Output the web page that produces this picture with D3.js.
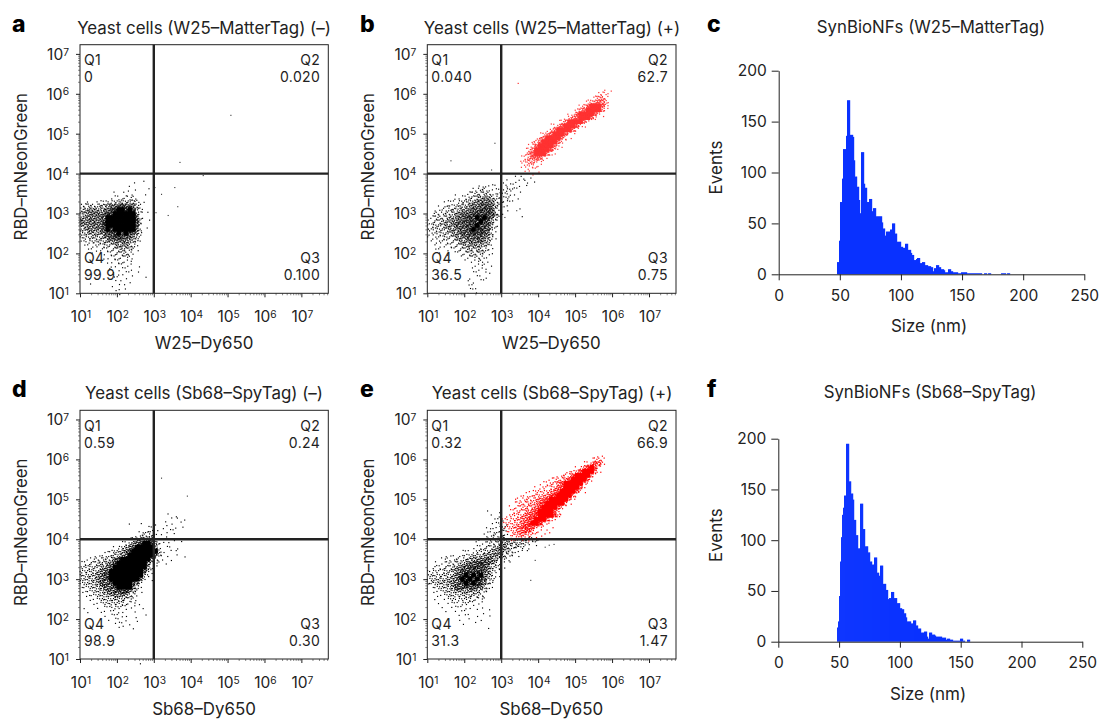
<!DOCTYPE html>
<html><head><meta charset="utf-8">
<script src="https://cdn.jsdelivr.net/npm/d3@7"></script>
<style>html,body{margin:0;background:#fff}svg{display:block}text{font-family:Inter,"Noto Sans",sans-serif;fill:#222}</style>
</head><body><svg id="c" width="1099" height="720"></svg>
<script>
// Event density: one string per 0.1 decade of y (top row first),
// one digit (0-9) per 0.1 decade of x, beginning at the stated log10 x.
const blackStartX = 1.0, redStartX = 3.0;
const blackRowsTopY = {a:3.9, b:3.9, d:4.6, e:4.7};
const redRowsTopY = {b:6.1, e:6.1};
const cloudA = ["0","00000000000000100100","00000000000001000000","00000000000001010010","00000000010100100100","00000000111221110000","00101112233444420100","23333445667877631000","34555556889989842000","45666668899999952010","55666679999999972000","66666689999999982010","55666689999999972000","45666679899999962010","34555567889898752000","23344456788876531000","12233445566665421000","01112233345554310000","00111122233443210000","00010011223332100000","00000011122221100000","00000001112211000000","00000000111111001000","00000000101111000000","00000000011111010000","00000000011010100100","00000000010101000000","00100000101010000000","00000000011010000000","00000000001000000000"];
const cloudB = ["000000000000000000000001011010","000000000000000000001101101101","000000000000001211100211101000","000000000000122221112222100000","000000010012233332121211010000","000000011123344554321210100000","000011112334556665322111000000","000112223445667776432100000000","001123334556778887421100010000","012223445667888887521000000000","123334556778898986310000010000","123345567788889885200000000000","233445567778898874200000000000","233344556778988873100000000000","123334456778888763100000000000","112233345667777652100000000000","011222234556666541000000000000","001112223445555431000000000000","001101112334444321000000000000","000101011223333211000000000000","000000000112222110000000000000","000000000011112010000000000000","000000000000111101000000000000","000000000000111100000000000000","000000000000110110000000000000","000000000001011100000000000000","000000000001101100000000000000","000000000001100000000000000000","000000000001110000000000000000","000000000000010000000000000000"];
const cloudD = ["000000000000000000000001001000","000000000000000000000000101010","000000000000010010001001100100","000000000000000000110011010100","000000000000000012220101110000","000000000000000123331011010000","000000000000012356661011010000","000000000001235789985210100100","000000000123468999996101101","000000112335689999999410101","00001112234579999999731100101","0111223346899999999521101","122334456899999999631101","233344567999999999521","33344567999999999731","33445678999999999421","33445678999999996201","23345677899999852","12234566789999731","11223456678886421","0112234556665321","0011123344443211","00011122333322101","010010112222111001","0010011011111010","0000001011111000010","0000000101101001","0000000001110101","000000000011001","0","0","0","0","0","0","0","0","00000000000000001"];
const cloudE = ["00000000000000001001","00000000000000000101","000000000000000000111","0000000000000000011211","0000000000000000121121","0000000000000000112231","0000000000000001122331","000000000000010112244322334322","000000000000011122345544333211","000000000000112233455543321101","000000000111123344565432110100","0000011111223445566643211","00011112233455667653211","00111223345677887542101","012223345678887764321","22223345688888875321","23333445789898965311","2334445679898987421","234445567898988632","012334567787776421","01112345555554421","0011123333444321","0010112222332211","000101111222111","000010111111101","00000101011001001","00000000101101011","0000000010010010","0000000001000100","00000000000000001"];
const redB = ["000000000000000000000000000011","00000000000000000000000000232","00000000000000000000000003552","00000000000000000000000246763","00000000000000000000014799982","00000000000000000000257999951","000000000000000000127999983","00000000000000000136899972","000000000000000136999962","00000000000001258999831","000000000000136999962","00000000001248999831","0000000001369999721","000000002379999821","00000001379999721","0000001369999831","000000258999721","0000012588741","000002355421","00000123321","0000001211","00000000101"];
const redE = ["0000000000000000000000000011","0000000000000000000000001332","0000000000000000000000125762","000000000000000000001258972","000000000000000001124799951","00000000000000012247999951","0000000000001123358999951","000000000011233579999941","00000000011223468999961","00000011122334689999621","000001122334578999941","00011223345689999951","0001233445689999941","001223344689999721","0012334568999962","01233456789999841","122345678999731","1223457899842","023457887421001","01235676421011","0013454321110","0012221101"];
// Lone events as [log10 x, log10 y]
const strayA = [[5.09,5.46],[3.71,4.28],[4.34,3.95],[3.03,3.65],[3.57,3.65],[3.21,3.48],[3.65,3.17],[3.39,2.95],[3.06,3.02]];
const strayB = [[2.83,4.76],[1.64,4.32],[2.74,4.09],[3.42,3.07],[3.1,2.9]];
const strayBRed = [[3.46,6.26],[5.77,5.43]];
const strayD = [[3.21,5.53],[3.91,5.08]];
const strayE = [[3.8,2.97],[3.92,3.47],[4.19,3.8],[4.3,3.85],[4.43,3.87]];
// Gate percentages
const quadA = ["0","0.020","0.100","99.9"];
const quadB = ["0.040","62.7","0.75","36.5"];
const quadD = ["0.59","0.24","0.30","98.9"];
const quadE = ["0.32","66.9","1.47","31.3"];
const quadNames = ["Q1","Q2","Q3","Q4"];
// Histograms: events per bin
const binStartC = 47.69, binWidthC = 0.818, binStartF = 48.3, binWidthF = 0.822;
const eventsC = [12,12,33,71,71,94,123,123,123,136,171,171,171,137,137,137,135,112,96,96,86,86,73,60,120,120,120,89,85,85,71,71,74,74,74,62,65,65,65,57,57,57,57,57,57,51,45,45,38,42,42,42,42,44,44,50,50,50,40,40,32,32,32,32,27,27,26,26,30,30,30,24,24,24,21,19,19,14,14,15,16,16,16,11,11,12,12,12,9,9,9,8,8,8,7,7,3,6,6,9,9,9,7,7,5,5,5,4,2,2,2,5,5,5,3,3,2,2,2,2,2,1,1,1,2,2,2,2,2,2,1,1,1,1,1,1,1,1,1,1,1,1,1,1,1,0,0,1,1,1,0,1,1,1,0,0,0,0,0,0,0,0,0,0,1,1,1,1,1,0,1,1,1];
const eventsF = [14,20,45,79,103,125,132,144,144,195,195,195,158,158,146,146,140,120,120,105,105,92,92,136,136,136,111,111,94,94,94,88,88,79,79,76,76,83,83,83,68,68,65,75,75,75,57,57,57,51,51,42,43,43,49,49,49,43,43,43,38,38,38,33,33,32,32,28,28,24,20,20,20,20,18,18,21,21,21,16,16,13,13,13,9,9,9,10,10,10,5,3,9,9,9,7,7,7,6,5,5,5,5,5,5,4,4,4,4,2,3,3,3,2,2,2,1,1,1,1,1,1,1,3,3,3,1,1,0,0,2,2,2];
const logTicks = [1,2,3,4,5,6,7];
const histXTicks = [0,50,100,150,200,250];
const histYTicks = [0,50,100,150,200];

// fill pattern for the dots inside a density cell
const stipple = [[.31,.42],[.78,.83],[.12,.88],[.86,.17],[.55,.08],[.08,.35],[.62,.58],[.38,.70],[.90,.48],[.22,.14],[.47,.93],[.70,.30],[.03,.62],[.40,.20],[.95,.72],[.60,.85]];
const dotsForDigit = [0,1,2,3,4,6,8,10,12,16];
const svg = d3.select("#c");
const INK = "#222";

function cellDots(rows, x0, yTop){
  const out=[];
  rows.forEach((r,j)=>{ [...r].forEach((ch,i)=>{
    const n=dotsForDigit[+ch]||0;
    for(let k=0;k<n;k++){
      const s=stipple[(k+i*5+j*11)%16];
      out.push([x0+(i+s[0])*0.1, yTop-j*0.1+(0.5-s[1])*0.1]);
    }
  });});
  return out;
}
function fullCells(rows, x0, yTop){
  const out=[];
  rows.forEach((r,j)=>{ [...r].forEach((ch,i)=>{ if(ch==="9") out.push([x0+i*0.1, yTop-j*0.1]); });});
  return out;
}
function sup(sel){
  sel.each(function(d){
    const t=d3.select(this).text(null);
    t.append("tspan").text("10");
    t.append("tspan").attr("dy","-0.42em").attr("font-size","0.66em").text(d);
  });
}
function flow(o){
  const g=svg.append("g");
  const xLog=d3.scaleLog().domain([10,Math.pow(10,7.73)]).range([o.x0,o.x1]);
  const yLog=d3.scaleLog().domain([10,Math.pow(10,7.23)]).range([o.yB,o.yT]);
  const px=v=>xLog(Math.pow(10,v)), py=v=>yLog(Math.pow(10,v));
  const drawDots=(pts,color,s)=>g.append("g").selectAll("rect").data(pts).join("rect")
     .attr("x",d=>px(d[0])-s/2).attr("y",d=>py(d[1])-s/2)
     .attr("width",s).attr("height",s).attr("fill",color);
  const drawFull=(cells,color)=>g.append("g").selectAll("rect").data(cells).join("rect")
     .attr("x",d=>px(d[0])-.3).attr("y",d=>py(d[1]+.05)-.3)
     .attr("width",d=>px(d[0]+.1)-px(d[0])+.6).attr("height",d=>py(d[1]-.05)-py(d[1]+.05)+.6).attr("fill",color);
  drawFull(fullCells(o.black,blackStartX,o.blackTop),"#000");
  drawDots(cellDots(o.black,blackStartX,o.blackTop),"#000",1.15);
  if(o.red){ drawFull(fullCells(o.red,redStartX,o.redTop),o.redColor); drawDots(cellDots(o.red,redStartX,o.redTop),o.redColor,1.2); }
  drawDots(o.stray,"#333",1.1);
  if(o.strayRed) drawDots(o.strayRed,o.redColor,1.2);
  const minor=[]; for(let e=1;e<8;e++) for(let m=2;m<10;m++){const v=m*Math.pow(10,e); if(v<=Math.pow(10,7.7)) minor.push(v);}
  const minorY=minor.filter(v=>v<=Math.pow(10,7.2));
  const axM=(ax,s,vals)=>ax.tickValues(vals).tickSize(s).tickFormat("");
  g.append("g").attr("transform",`translate(0,${o.yB})`).call(axM(d3.axisBottom(xLog),2,minor)).call(a=>a.select(".domain").remove()).selectAll("line").attr("stroke","#555").attr("stroke-width",.7);
  g.append("g").attr("transform",`translate(${o.x0},0)`).call(axM(d3.axisLeft(yLog),2,minorY)).call(a=>a.select(".domain").remove()).selectAll("line").attr("stroke","#555").attr("stroke-width",.7);
  const bx=d3.axisBottom(xLog).tickValues(logTicks.map(e=>Math.pow(10,e))).tickSize(4).tickFormat("");
  g.append("g").attr("transform",`translate(0,${o.yB})`).call(bx).call(a=>a.select(".domain").remove()).selectAll("line").attr("stroke",INK);
  const by=d3.axisLeft(yLog).tickValues(logTicks.map(e=>Math.pow(10,e))).tickSize(4).tickFormat("");
  g.append("g").attr("transform",`translate(${o.x0},0)`).call(by).call(a=>a.select(".domain").remove()).selectAll("line").attr("stroke",INK);
  g.append("rect").attr("x",o.x0).attr("y",o.yT).attr("width",o.x1-o.x0).attr("height",o.yB-o.yT).attr("fill","none").attr("stroke",INK).attr("stroke-width",1);
  g.append("line").attr("x1",xLog(1e3)).attr("x2",xLog(1e3)).attr("y1",o.yT).attr("y2",o.yB).attr("stroke",INK).attr("stroke-width",2.4);
  g.append("line").attr("x1",o.x0).attr("x2",o.x1).attr("y1",yLog(1e4)).attr("y2",yLog(1e4)).attr("stroke",INK).attr("stroke-width",2.4);
  g.append("g").selectAll("text").data(logTicks).join("text").attr("x",e=>xLog(Math.pow(10,e))+1).attr("y",o.yB+29).attr("text-anchor","middle").attr("font-size",15.5).call(sup);
  g.append("g").selectAll("text").data(logTicks).join("text").attr("x",o.x0-11).attr("y",e=>yLog(Math.pow(10,e))+6).attr("text-anchor","end").attr("font-size",15.5).call(sup);
  const qp=[[o.x0+4,o.yT+20.5,"start"],[o.x1-8,o.yT+20.5,"end"],[o.x1-8,o.yB-30.5,"end"],[o.x0+4,o.yB-30.5,"start"]];
  o.quad.forEach((v,i)=>{
    g.append("text").attr("x",qp[i][0]).attr("y",qp[i][1]).attr("text-anchor",qp[i][2]).attr("font-size",14).style("letter-spacing","0.4px").text(quadNames[i]);
    g.append("text").attr("x",qp[i][0]).attr("y",qp[i][1]+17).attr("text-anchor",qp[i][2]).attr("font-size",14).style("letter-spacing","0.4px").text(v);
  });
  g.append("text").attr("x",(o.titleX)).attr("y",o.yT-11).attr("text-anchor","middle").attr("font-size",16.9).text(o.title);
  g.append("text").attr("x",o.x0+124).attr("y",o.yB+55.5).attr("text-anchor","middle").attr("font-size",16.9).text(o.xLabel);
  g.append("text").attr("transform",`translate(${o.x0-53},${o.yT+122}) rotate(-90)`).attr("text-anchor","middle").attr("font-size",16.8).text("RBD–mNeonGreen");
  g.append("text").attr("x",o.lx).attr("y",o.yT-13).attr("font-size",23).attr("font-weight",800).style("fill","#000").text(o.letter);
}
function hist(o){
  const g=svg.append("g");
  const x=d3.scaleLinear().domain([0,250]).range([o.x0,o.x1]);
  const y=d3.scaleLinear().domain([0,200]).range([o.yB,o.yT]);
  g.append("g").selectAll("rect").data(o.events.map((v,i)=>({v,i})).filter(d=>d.v>0)).join("rect")
   .attr("x",d=>x(o.start+d.i*o.w)).attr("width",d=>x(o.start+(d.i+1)*o.w)-x(o.start+d.i*o.w)+.2)
   .attr("y",d=>y(d.v)).attr("height",d=>o.yB-y(d.v)).attr("fill","#0a32ff");
  const ax=g.append("g").attr("transform",`translate(0,${o.yB})`).call(d3.axisBottom(x).tickValues(histXTicks).tickSize(6).tickPadding(5).tickSizeOuter(0));
  const ay=g.append("g").attr("transform",`translate(${o.x0},0)`).call(d3.axisLeft(y).tickValues(histYTicks).tickSize(7).tickPadding(5).tickSizeOuter(0));
  [ax,ay].forEach(a=>{a.selectAll("path,line").attr("stroke",INK); a.selectAll("text").attr("font-size",15.5).style("font-family","Inter").style("fill",INK);});
  ax.selectAll("text").attr("dy","1em");
  g.append("text").attr("x",o.titleX).attr("y",o.titleY).attr("text-anchor","middle").attr("font-size",16.8).text(o.title);
  g.append("text").attr("x",o.titleX-2).attr("y",o.yB+58).attr("text-anchor","middle").attr("font-size",17).text("Size (nm)");
  g.append("text").attr("transform",`translate(722,${(o.yB+o.yT)/2-5}) rotate(-90)`).attr("text-anchor","middle").attr("font-size",17).text("Events");
  g.append("text").attr("x",707).attr("y",o.titleY-1).attr("font-size",23).attr("font-weight",800).style("fill","#000").text(o.letter);
}
flow({x0:80,x1:328.3,yT:44.7,yB:293.3,black:cloudA,blackTop:blackRowsTopY.a,stray:strayA,quad:quadA,title:"Yeast cells (W25–MatterTag) (–)",titleX:204,xLabel:"W25–Dy650",letter:"a",lx:12});
flow({x0:427.3,x1:676,yT:44.7,yB:293.3,black:cloudB,blackTop:blackRowsTopY.b,red:redB,redTop:redRowsTopY.b,redColor:"#ff3333",stray:strayB,strayRed:strayBRed,quad:quadB,title:"Yeast cells (W25–MatterTag) (+)",titleX:552,xLabel:"W25–Dy650",letter:"b",lx:360});
flow({x0:80,x1:328.3,yT:410.3,yB:659,black:cloudD,blackTop:blackRowsTopY.d,stray:strayD,quad:quadD,title:"Yeast cells (Sb68–SpyTag) (–)",titleX:204,xLabel:"Sb68–Dy650",letter:"d",lx:12});
flow({x0:427.3,x1:676,yT:410.3,yB:659,black:cloudE,blackTop:blackRowsTopY.e,red:redE,redTop:redRowsTopY.e,redColor:"#ff0000",stray:strayE,quad:quadE,title:"Yeast cells (Sb68–SpyTag) (+)",titleX:552,xLabel:"Sb68–Dy650",letter:"e",lx:360});
hist({x0:778.7,x1:1084.3,yT:70.7,yB:274.3,events:eventsC,start:binStartC,w:binWidthC,title:"SynBioNFs (W25–MatterTag)",titleX:931,titleY:33,letter:"c"});
hist({x0:778.3,x1:1082.3,yT:438.7,yB:641.7,events:eventsF,start:binStartF,w:binWidthF,title:"SynBioNFs (Sb68–SpyTag)",titleX:930,titleY:398,letter:"f"});
</script></body></html>
